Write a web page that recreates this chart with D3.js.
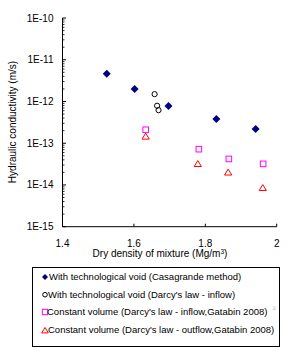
<!DOCTYPE html>
<html lang="en">
  <head>
    <meta charset="utf-8">
    <title>Hydraulic conductivity</title>
    <script src="https://d3js.org/d3.v7.min.js"></script>
    <style>
      body { margin: 0; background: #fff; }
      text { font-family: Arial, "Liberation Sans", sans-serif; }
    </style>
  </head>
  <body>
    <div id="chart"></div>
    <script>
      // series: [dry density, hydraulic conductivity]
      var casagrande = [[1.524, 4.6e-12], [1.602, 2.0e-12], [1.697, 7.8e-13], [1.831, 3.8e-13], [1.941, 2.2e-13]];
      var darcyInflow = [[1.658, 1.5e-12], [1.665, 7.9e-13], [1.669, 6.2e-13]];
      var constInflow = [[1.633, 2.1e-13], [1.782, 7.2e-14], [1.866, 4.2e-14], [1.962, 3.2e-14]];
      var constOutflow = [[1.633, 1.45e-13], [1.779, 3.2e-14], [1.864, 2.0e-14], [1.961, 8.5e-15]];
      var xTicks = [1.4, 1.6, 1.8, 2];
      var yTicks = [1e-15, 1e-14, 1e-13, 1e-12, 1e-11, 1e-10];
      var legendLabels = [
        "With technological void (Casagrande method)",
        "With technological void (Darcy's law - inflow)",
        "Constant volume (Darcy's law - inflow,Gatabin 2008)",
        "Constant volume (Darcy's law - outflow,Gatabin 2008)"
      ];

      var svg = d3.select("#chart").append("svg")
        .attr("width", 287)
        .attr("height", 347);

      var x = d3.scaleLinear().domain([1.4, 2]).range([62.5, 276.7]);
      var y = d3.scaleLog().domain([1e-15, 1e-10]).range([226.7, 18]);

      // minor ticks on log axis
      var minor = [];
      for (var e = -15; e < -10; e++) {
        for (var m = 2; m <= 9; m++) minor.push(m * Math.pow(10, e));
      }

      var yAxis = svg.append("g").attr("transform", "translate(62.5,0)");
      yAxis.append("line").attr("y1", y(1e-10)).attr("y2", y(1e-15)).attr("stroke", "#000");
      yAxis.selectAll(".minor").data(minor).enter().append("line")
        .attr("x1", 0).attr("x2", 2)
        .attr("y1", d => y(d)).attr("y2", d => y(d))
        .attr("stroke", "#000").attr("stroke-width", 0.8);
      yAxis.selectAll(".major").data(yTicks).enter().append("line")
        .attr("x1", 0).attr("x2", 3.5)
        .attr("y1", d => y(d)).attr("y2", d => y(d))
        .attr("stroke", "#000");
      yAxis.selectAll(".lbl").data(yTicks).enter().append("text")
        .attr("x", -9).attr("y", d => y(d) + 3.5)
        .attr("text-anchor", "end")
        .style("font-size", "10px")
        .text(d => "1E" + Math.round(Math.log10(d)));

      var xAxis = svg.append("g").attr("transform", "translate(0,226.7)");
      xAxis.append("line").attr("x1", x(1.4)).attr("x2", x(2)).attr("stroke", "#000");
      xAxis.selectAll(".major").data(xTicks).enter().append("line")
        .attr("x1", d => x(d)).attr("x2", d => x(d))
        .attr("y1", 0).attr("y2", -3)
        .attr("stroke", "#000");
      xAxis.selectAll(".lbl").data(xTicks).enter().append("text")
        .attr("x", d => x(d)).attr("y", 20)
        .attr("text-anchor", "middle")
        .style("font-size", "10px")
        .text(d => d);

      // axis titles
      var xt = svg.append("text")
        .attr("x", 160).attr("y", 257)
        .attr("text-anchor", "middle")
        .style("font-size", "10px");
      xt.append("tspan").text("Dry density of mixture (Mg/m");
      xt.append("tspan").attr("dy", -3.5).style("font-size", "6.5px").text("3");
      xt.append("tspan").attr("dy", 3.5).text(")");

      svg.append("text")
        .attr("transform", "translate(16,122)rotate(-90)")
        .attr("text-anchor", "middle")
        .style("font-size", "10px")
        .text("Hydraulic conductivity (m/s)");

      // markers
      var diamondPath = function(r) { return "M0," + (-r) + "L" + r + ",0L0," + r + "L" + (-r) + ",0Z"; };
      var triPath = function(r) { return "M0," + (-r) + "L" + (r * 1.1) + "," + (r * 0.8) + "L" + (-r * 1.1) + "," + (r * 0.8) + "Z"; };

      svg.selectAll(".cas").data(casagrande).enter().append("path")
        .attr("d", diamondPath(4))
        .attr("transform", d => "translate(" + x(d[0]) + "," + y(d[1]) + ")")
        .attr("fill", "#000080");

      svg.selectAll(".dar").data(darcyInflow).enter().append("circle")
        .attr("cx", d => x(d[0])).attr("cy", d => y(d[1])).attr("r", 2.6)
        .attr("fill", "none").attr("stroke", "#000").attr("stroke-width", 1);

      svg.selectAll(".cin").data(constInflow).enter().append("rect")
        .attr("x", d => x(d[0]) - 2.8).attr("y", d => y(d[1]) - 2.8)
        .attr("width", 5.6).attr("height", 5.6)
        .attr("fill", "none").attr("stroke", "#ff00ff").attr("stroke-width", 1);

      svg.selectAll(".cout").data(constOutflow).enter().append("path")
        .attr("d", triPath(3.3))
        .attr("transform", d => "translate(" + x(d[0]) + "," + y(d[1]) + ")")
        .attr("fill", "none").attr("stroke", "#ff0000").attr("stroke-width", 1);

      // legend
      var lg = svg.append("g");
      lg.append("rect")
        .attr("x", 32.5).attr("y", 267.5).attr("width", 247).attr("height", 79)
        .attr("fill", "#fff").attr("stroke", "#000").attr("stroke-width", 1);
      var rowY = [277, 294.7, 312, 330];
      lg.append("path").attr("d", diamondPath(3)).attr("transform", "translate(45," + rowY[0] + ")").attr("fill", "#000080");
      lg.append("circle").attr("cx", 45).attr("cy", rowY[1]).attr("r", 2.3)
        .attr("fill", "none").attr("stroke", "#000");
      lg.append("rect").attr("x", 42.3).attr("y", rowY[2] - 2.7).attr("width", 5.4).attr("height", 5.4)
        .attr("fill", "none").attr("stroke", "#ff00ff");
      lg.append("path").attr("d", triPath(3)).attr("transform", "translate(45," + (rowY[3] + 0.5) + ")")
        .attr("fill", "none").attr("stroke", "#ff0000");
      var lx = [49, 48, 47, 48];
      lg.selectAll(".lt").data(legendLabels).enter().append("text")
        .attr("x", (d, i) => lx[i]).attr("y", (d, i) => rowY[i] + 3.3)
        .style("font-size", "9.5px")
        .text(d => d);
      lg.append("text").attr("x", 271.5).attr("y", rowY[2] - 2.5)
        .style("font-size", "5px").attr("fill", "#bbb").text("②");
    </script>
  </body>
</html>
